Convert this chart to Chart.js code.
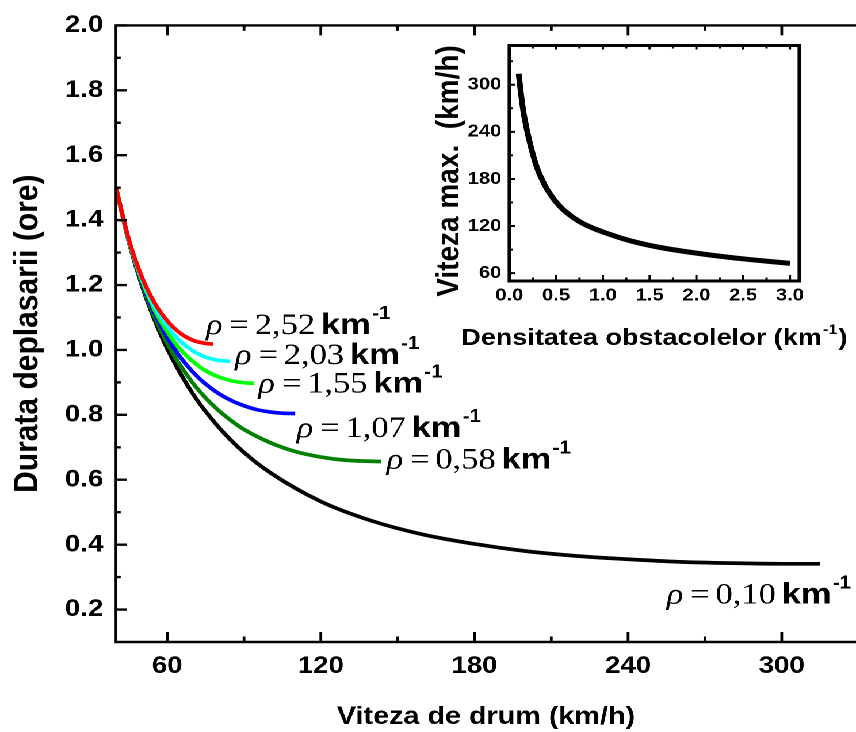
<!DOCTYPE html>
<html><head><meta charset="utf-8">
<script src="https://cdn.jsdelivr.net/npm/chart.js@4.4.1/dist/chart.umd.min.js"></script>
<style>
html,body{margin:0;padding:0;background:#fff;overflow:hidden;width:856px;height:732px;}
#stage{position:absolute;left:0;top:0;width:744px;height:732px;transform:scaleX(1.150538);transform-origin:0 0;}
#main{position:absolute;left:0;top:0;width:744px;height:732px;}
#inset{position:absolute;left:365px;top:28px;width:379px;height:340px;}
</style></head><body>
<div id="stage">
<canvas id="main" width="744" height="732" style="width:744px;height:732px"></canvas>
<canvas id="inset" width="379" height="340" style="width:379px;height:340px"></canvas>
</div>
<script>
// ---- main chart data: travel time (h) vs road speed (km/h) ----
const speedRed   = [40,45,50,55,60,65,70,75,78];
const timeRed    = [1.500,1.341,1.227,1.146,1.090,1.052,1.030,1.020,1.018];
const speedCyan  = [40,45,50,55,60,65,70,75,80,84.6];
const timeCyan   = [1.500,1.339,1.222,1.135,1.073,1.028,0.997,0.978,0.968,0.965];
const speedGreen = [40,45,50,55,60,65,70,75,80,85,90,94];
const timeGreen  = [1.500,1.338,1.217,1.125,1.056,1.003,0.965,0.936,0.917,0.905,0.899,0.897];
const speedBlue  = [40,45,50,55,60,65,70,75,80,85,90,95,100,105,110];
const timeBlue   = [1.500,1.337,1.212,1.115,1.039,0.979,0.932,0.895,0.866,0.844,0.828,0.816,0.809,0.805,0.804];
const speedDkGreen = [40,45,50,55,60,65,70,75,80,85,90,100,110,120,130,143.6];
const timeDkGreen  = [1.500,1.335,1.206,1.104,1.021,0.954,0.898,0.852,0.814,0.782,0.755,0.715,0.687,0.670,0.660,0.656];
const speedBlack = [40,45,50,55,60,70,80,90,100,120,140,160,180,200,220,240,260,280,300,315];
const timeBlack  = [1.500,1.334,1.201,1.094,1.004,0.865,0.763,0.684,0.623,0.533,0.473,0.431,0.402,0.380,0.365,0.355,0.347,0.343,0.341,0.341];

const rhoLabels = ['2,52','2,03','1,55','1,07','0,58','0,10'];

const xTickValues = [60,120,180,240,300];
const xMinorValues = [90,150,210,270];
const yTickValues = [0.2,0.4,0.6,0.8,1.0,1.2,1.4,1.6,1.8,2.0];
const yMinorValues = [0.3,0.5,0.7,0.9,1.1,1.3,1.5,1.7,1.9];

// ---- inset data: max speed vs obstacle density ----
const insetDensity = [0.1,0.125,0.15,0.175,0.2,0.25,0.3,0.35,0.4,0.45,0.5,0.55,0.6,0.7,0.8,0.9,1.0,1.2,1.4,1.6,1.8,2.0,2.2,2.4,2.6,2.8,3.0];
const insetVmax    = [314,288,266,250,236,212,193,179,167.5,158.5,150.5,144,138.5,129.5,122.5,117,112.5,104.5,98,93,89,85.5,82.3,79.5,77,74.7,72.5];
const insetXTicks = [0,0.5,1.0,1.5,2.0,2.5,3.0];
const insetXMinor = [0.25,0.75,1.25,1.75,2.25,2.75];
const insetYTicks = [60,120,180,240,300];
const insetYMinor = [90,150,210,270,330];

// label anchors (data units) for the rho annotations, same order as rhoLabels
const labelAnchorX = [75.2,86.5,95.6,110.6,145.7,255.1];
const labelAnchorY = [1.049,0.957,0.869,0.731,0.634,0.218];

Chart.defaults.font.family = "'Liberation Sans', Arial, sans-serif";
Chart.defaults.color = '#000';

function pts(xs, ys){ return xs.map((v,i)=>({x:v, y:ys[i]})); }

function drawRho(ctx, x, y, num){
  ctx.textAlign='left'; ctx.textBaseline='alphabetic'; ctx.fillStyle='#000';
  ctx.font='italic 30px "Liberation Serif", serif';
  ctx.fillText('\u03C1', x, y); x += ctx.measureText('\u03C1').width + 6;
  ctx.font='30px "Liberation Serif", serif';
  ctx.fillText('=', x, y); x += ctx.measureText('=').width + 5;
  ctx.fillText(num, x, y); x += ctx.measureText(num).width + 5;
  ctx.font='bold 30px "Liberation Sans", Arial, sans-serif';
  ctx.fillText('km', x, y); x += ctx.measureText('km').width + 1;
  ctx.font='bold 18px "Liberation Sans", Arial, sans-serif';
  ctx.fillText('-1', x, y - 15);
}

const mainAxes = {
  id:'mainAxes',
  afterDatasetsDraw(chart){
    const {ctx, chartArea:a, scales:{x, y}} = chart;
    ctx.save();
    ctx.strokeStyle='#000'; ctx.lineWidth=2.4; ctx.lineCap='square';
    ctx.beginPath();
    ctx.moveTo(a.left, a.top); ctx.lineTo(a.right+5, a.top);
    ctx.moveTo(a.left, a.top); ctx.lineTo(a.left, a.bottom); ctx.lineTo(a.right+5, a.bottom);
    ctx.stroke();
    ctx.lineCap='butt';
    ctx.beginPath();
    const xt=(vals,len)=>vals.forEach(v=>{const p=x.getPixelForValue(v);
      ctx.moveTo(p,a.bottom); ctx.lineTo(p,a.bottom-len); ctx.moveTo(p,a.top); ctx.lineTo(p,a.top+len);});
    xt(xTickValues,10); xt(xMinorValues,5.5);
    const yt=(vals,len)=>vals.forEach(v=>{const p=y.getPixelForValue(v);
      ctx.moveTo(a.left,p); ctx.lineTo(a.left+len,p);});
    yt(yTickValues,9.3); yt(yMinorValues,4.1);
    ctx.stroke();
    rhoLabels.forEach((t,i)=>{
      drawRho(ctx, x.getPixelForValue(labelAnchorX[i]), y.getPixelForValue(labelAnchorY[i]), t);
    });
    ctx.restore();
  }
};

const series = [
  {c:'#ff0000', xs:speedRed, ys:timeRed},
  {c:'#00ffff', xs:speedCyan, ys:timeCyan},
  {c:'#00ff00', xs:speedGreen, ys:timeGreen},
  {c:'#0000ff', xs:speedBlue, ys:timeBlue},
  {c:'#007f00', xs:speedDkGreen, ys:timeDkGreen},
  {c:'#000000', xs:speedBlack, ys:timeBlack}
];

new Chart(document.getElementById('main'), {
  type:'line',
  data:{ datasets: series.map((s,i)=>({
    label:'rho '+rhoLabels[i], data:pts(s.xs,s.ys), borderColor:s.c, borderWidth:3.7,
    pointRadius:0, fill:false, cubicInterpolationMode:'monotone', borderCapStyle:'butt'
  }))},
  options:{
    responsive:false, animation:false, devicePixelRatio:2,
    layout:{padding:{top:23,right:0,left:0,bottom:0}},
    plugins:{legend:{display:false}, tooltip:{enabled:false}},
    scales:{
      x:{type:'linear', min:40, max:329,
        grid:{display:false, drawTicks:false}, border:{display:false},
        afterBuildTicks:s=>{s.ticks = xTickValues.map(v=>({value:v}));},
        afterFit:s=>{s.height = 90;},
        ticks:{padding:10, font:{size:24, weight:'bold'}, callback:v=>String(v), maxRotation:0, autoSkip:false},
        title:{display:true, text:'Viteza de drum (km/h)', font:{size:25, weight:'bold'}, padding:{top:0,bottom:0}}
      },
      y:{type:'linear', min:0.1, max:2.0,
        grid:{display:false, drawTicks:false}, border:{display:false},
        afterBuildTicks:s=>{s.ticks = yTickValues.map(v=>({value:v}));},
        afterFit:s=>{s.width = 100.8;},
        ticks:{padding:11, font:{size:24, weight:'bold'}, callback:v=>v.toFixed(1), autoSkip:false},
        title:{display:true, text:'Durata deplasarii (ore)', font:{size:30, weight:'bold'}, padding:{top:6,bottom:0}}
      }
    }
  },
  plugins:[mainAxes]
});

const insetAxes = {
  id:'insetAxes',
  afterDatasetsDraw(chart){
    const {ctx, chartArea:a, scales:{x, y}} = chart;
    ctx.save();
    ctx.strokeStyle='#000'; ctx.lineWidth=3; ctx.lineJoin='miter';
    ctx.strokeRect(a.left, a.top, a.right-a.left, a.bottom-a.top);
    ctx.lineWidth=2;
    ctx.beginPath();
    const xt=(vals,len,lenTop)=>vals.forEach(v=>{const p=x.getPixelForValue(v);
      ctx.moveTo(p,a.bottom); ctx.lineTo(p,a.bottom-len); ctx.moveTo(p,a.top); ctx.lineTo(p,a.top+lenTop);});
    xt(insetXTicks,6,4); xt(insetXMinor,3.5,3);
    const yt=(vals,len)=>vals.forEach(v=>{const p=y.getPixelForValue(v);
      ctx.moveTo(a.left,p); ctx.lineTo(a.left+len,p);});
    yt(insetYTicks,5); yt(insetYMinor,3);
    ctx.stroke();
    ctx.fillStyle='#000';
    // y-axis title (rotated)
    ctx.save();
    ctx.translate(26, 143); ctx.rotate(-Math.PI/2);
    ctx.textAlign='center'; ctx.textBaseline='middle';
    ctx.font='bold 28px "Liberation Sans", Arial, sans-serif';
    ctx.fillText('Viteza max.  (km/h)', 0, 0);
    ctx.restore();
    // x-axis title with superscript
    const main='Densitatea obstacolelor (km', sup='-1', close=')';
    ctx.textBaseline='alphabetic'; ctx.textAlign='left';
    const big='bold 23.5px "Liberation Sans", Arial, sans-serif', small='bold 14px "Liberation Sans", Arial, sans-serif';
    ctx.font=big;
    const w1=ctx.measureText(main).width, w3=ctx.measureText(close).width;
    ctx.font=small;
    const w2=ctx.measureText(sup).width;
    let sx=(a.left+a.right)/2 - (w1+w2+w3+2)/2;
    const by=317;
    ctx.font=big; ctx.fillText(main,sx,by); sx+=w1+1;
    ctx.font=small; ctx.fillText(sup,sx,by-11); sx+=w2+1;
    ctx.font=big; ctx.fillText(close,sx,by);
    ctx.restore();
  }
};

new Chart(document.getElementById('inset'), {
  type:'line',
  data:{datasets:[{label:'Viteza max.', data:pts(insetDensity, insetVmax), borderColor:'#000', borderWidth:5,
    pointRadius:0, fill:false, cubicInterpolationMode:'monotone', borderCapStyle:'butt'}]},
  options:{
    responsive:false, animation:false, devicePixelRatio:2,
    layout:{padding:{top:10.3,right:49.3,left:0,bottom:0}},
    plugins:{legend:{display:false}, tooltip:{enabled:false}},
    scales:{
      x:{type:'linear', min:0, max:3.1,
        grid:{display:false, drawTicks:false}, border:{display:false},
        afterBuildTicks:s=>{s.ticks = insetXTicks.map(v=>({value:v}));},
        afterFit:s=>{s.height = 87;},
        ticks:{padding:4, font:{size:17.5, weight:'bold'}, callback:v=>v.toFixed(1), maxRotation:0, autoSkip:false}
      },
      y:{type:'linear', min:50, max:350,
        grid:{display:false, drawTicks:false}, border:{display:false},
        afterBuildTicks:s=>{s.ticks = insetYTicks.map(v=>({value:v}));},
        afterFit:s=>{s.width = 77.7;},
        ticks:{padding:7, font:{size:17.5, weight:'bold'}, callback:v=>String(v), autoSkip:false}
      }
    }
  },
  plugins:[insetAxes]
});
</script>
</body></html>
